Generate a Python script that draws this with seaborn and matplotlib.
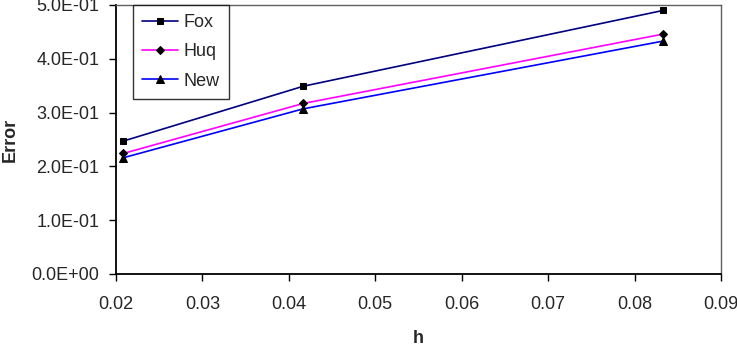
import matplotlib
matplotlib.use("Agg")
import matplotlib.pyplot as plt
import seaborn as sns
import pandas as pd
from matplotlib.ticker import FuncFormatter, MultipleLocator

h = [0.020833, 0.041667, 0.083333]
fox = [0.247, 0.349, 0.490]
huq = [0.224, 0.317, 0.446]
new = [0.216, 0.307, 0.433]
series_names = ["Fox", "Huq", "New"]
colors = {"Fox": "#000080", "Huq": "#FF00FF", "New": "#0000FF"}
markers = {"Fox": "s", "Huq": "D", "New": "^"}
msizes = {"Fox": 5, "Huq": 4.5, "New": 6}

sns.set_style("white")
plt.rcParams["font.family"] = ["Liberation Sans", "DejaVu Sans"]

fig = plt.figure(figsize=(7.37, 3.48), dpi=100)
ax = fig.add_axes([116 / 737, 1 - 274 / 348, (721 - 116) / 737, (274 - 5) / 348])

for name, vals in zip(series_names, [fox, huq, new]):
    df = pd.DataFrame({"h": h, "Error": vals})
    sns.lineplot(data=df, x="h", y="Error", ax=ax, color=colors[name], label=name,
                 marker=markers[name], markersize=msizes[name],
                 markerfacecolor="black", markeredgecolor="black", linewidth=1.2)

ax.set_xlim(0.02, 0.09)
ax.set_ylim(0, 0.5)
ax.xaxis.set_major_locator(MultipleLocator(0.01))
ax.yaxis.set_major_locator(MultipleLocator(0.1))
ax.xaxis.set_major_formatter(FuncFormatter(lambda v, p: f"{v:.2f}"))
ax.yaxis.set_major_formatter(FuncFormatter(lambda v, p: f"{v:.1E}"))

ax.tick_params(axis="both", which="major", direction="out", length=5, width=1,
               color="black", labelsize=13)
ax.tick_params(axis="y", pad=7)
ax.tick_params(axis="x", pad=11)
ax.tick_params(left=True, bottom=True)

for s in ["left", "bottom"]:
    ax.spines[s].set_color("black")
    ax.spines[s].set_linewidth(1.3)
for s in ["top", "right"]:
    ax.spines[s].set_color("#606060")
    ax.spines[s].set_linewidth(1.0)

ax.set_xlabel("h", fontsize=13, fontweight="bold", labelpad=12)
ax.set_ylabel("Error", fontsize=13, fontweight="bold", labelpad=9)

leg = ax.legend(loc="upper left", bbox_to_anchor=((133 - 116) / 605, 1.0),
                borderaxespad=0, frameon=True, fancybox=False, fontsize=13,
                handlelength=2.0, handletextpad=0.3, labelspacing=0.68, borderpad=0.5)
leg.get_frame().set_edgecolor("black")
leg.get_frame().set_linewidth(1.0)

fig.savefig("out.png", dpi=100)
